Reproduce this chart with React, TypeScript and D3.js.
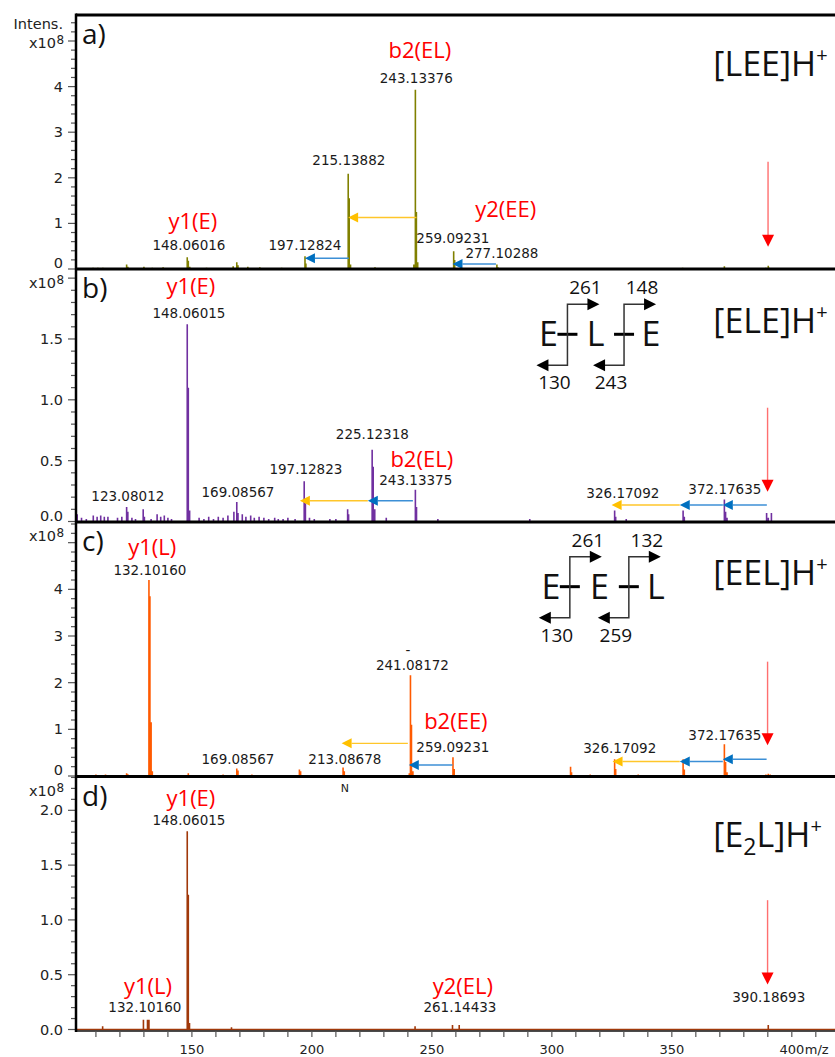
import React from "react";
import * as d3 from "d3";

// ---------- axis definitions ----------
const xDomain: [number, number] = [101.7, 418];
const xMajorTicks = [150, 200, 250, 300, 350, 400];
const xMinorTicks = d3.range(110, 420, 10);

// ---------- spectra: [m/z, intensity (x10^8)] ----------
const spectrumA: [number, number][] = [
  [103.5, 0.02], [108.8, 0.03], [110.8, 0.03], [112.9, 0.03], [114.7, 0.02], [118.5, 0.02],
  [122.8, 0.1], [123.3, 0.05], [126.5, 0.02], [130.0, 0.05], [133.5, 0.03], [138.0, 0.04],
  [142.5, 0.02], [148.06, 0.26], [148.5, 0.18], [149.1, 0.05], [152.5, 0.02], [156.1, 0.03],
  [162.0, 0.02], [167.2, 0.06], [168.7, 0.15], [169.2, 0.08], [173.3, 0.05], [178.3, 0.04],
  [182.0, 0.02], [187.4, 0.03], [197.13, 0.28], [197.5, 0.12], [207.0, 0.02], [215.14, 2.09],
  [215.55, 1.55], [216.1, 0.1], [226.3, 0.04], [233.0, 0.02], [242.5, 0.1], [243.13, 3.93],
  [243.55, 1.25], [244.1, 0.15], [259.09, 0.39], [259.5, 0.2], [277.1, 0.1], [277.5, 0.04],
  [354.5, 0.03], [371.9, 0.06], [389.2, 0.03], [390.19, 0.07], [390.6, 0.03],
];
const spectrumB: [number, number][] = [
  [102.2, 0.06], [104.0, 0.03], [106.0, 0.02], [108.9, 0.05], [110.5, 0.04], [112.0, 0.05],
  [113.5, 0.04], [115.0, 0.04], [119.0, 0.03], [120.8, 0.04], [122.8, 0.12], [123.3, 0.08],
  [125.0, 0.03], [126.5, 0.02], [129.7, 0.1], [130.2, 0.04], [133.0, 0.02], [135.5, 0.06],
  [137.0, 0.04], [138.5, 0.05], [140.0, 0.03], [141.5, 0.02], [148.06, 1.62], [148.5, 1.1],
  [149.05, 0.09], [153.0, 0.03], [155.0, 0.02], [157.0, 0.04], [159.0, 0.02], [161.0, 0.04],
  [163.0, 0.03], [165.0, 0.05], [167.5, 0.08], [168.7, 0.16], [169.2, 0.07], [171.0, 0.06],
  [172.5, 0.04], [174.5, 0.05], [176.0, 0.03], [178.0, 0.04], [180.0, 0.03], [182.0, 0.02],
  [184.5, 0.03], [186.0, 0.02], [188.0, 0.02], [190.0, 0.03], [193.0, 0.02], [196.8, 0.33],
  [197.3, 0.15], [199.0, 0.03], [201.0, 0.02], [207.5, 0.02], [210.0, 0.02], [214.9, 0.1],
  [215.3, 0.06], [225.12, 0.59], [225.55, 0.45], [226.2, 0.1], [231.0, 0.03], [243.13, 0.26],
  [243.6, 0.12], [252.5, 0.02], [290.8, 0.02], [326.17, 0.09], [326.6, 0.04], [331.0, 0.02],
  [354.7, 0.09], [355.2, 0.04], [371.9, 0.18], [372.4, 0.08], [373.0, 0.03], [389.5, 0.07],
  [390.2, 0.03], [391.5, 0.07],
];
const spectrumC: [number, number][] = [
  [108.0, 0.02], [110.0, 0.03], [112.0, 0.02], [114.0, 0.03], [116.0, 0.02], [122.8, 0.06],
  [123.3, 0.04], [126.0, 0.02], [132.1, 4.2], [132.5, 3.85], [133.0, 1.15], [133.5, 0.1],
  [141.0, 0.02], [148.5, 0.06], [153.0, 0.02], [158.0, 0.02], [163.0, 0.03], [168.7, 0.16],
  [169.2, 0.12], [175.0, 0.03], [182.0, 0.02], [194.8, 0.14], [195.3, 0.1], [203.0, 0.02],
  [213.0, 0.18], [213.5, 0.1], [229.0, 0.02], [240.6, 0.06], [241.08, 2.16], [241.5, 1.1],
  [242.1, 0.1], [258.8, 0.4], [259.3, 0.15], [290.0, 0.02], [307.8, 0.2], [308.2, 0.08],
  [316.0, 0.03], [326.17, 0.36], [326.6, 0.15], [336.0, 0.03], [354.7, 0.36], [355.2, 0.14],
  [371.9, 0.68], [372.4, 0.3], [373.0, 0.08], [389.2, 0.03], [390.19, 0.05], [391.0, 0.03],
];
const spectrumD: [number, number][] = [
  [112.8, 0.03], [129.8, 0.09], [131.5, 0.09], [132.1, 0.09], [148.06, 1.81], [148.5, 1.23],
  [149.0, 0.06], [166.5, 0.02], [243.0, 0.03], [258.6, 0.04], [261.4, 0.04], [390.19, 0.04],
];

// ---------- peak labels (black), ion labels (red) ----------
type Lbl = { t: string; m: number; v: number };
const peakLabelsA: Lbl[] = [
  { t: "148.06016", m: 148.75, v: 0.42 }, { t: "197.12824", m: 197.1, v: 0.42 },
  { t: "215.13882", m: 215.4, v: 2.29 }, { t: "243.13376", m: 243.5, v: 4.08 },
  { t: "259.09231", m: 258.75, v: 0.58 }, { t: "277.10288", m: 279.2, v: 0.24 },
];
const ionLabelsA: Lbl[] = [
  { t: "y1(E)", m: 150.4, v: 0.88 }, { t: "b2(EL)", m: 245.0, v: 4.63 }, { t: "y2(EE)", m: 280.8, v: 1.14 },
];
const peakLabelsB: Lbl[] = [
  { t: "148.06015", m: 148.75, v: 1.67 }, { t: "123.08012", m: 123.3, v: 0.17 },
  { t: "169.08567", m: 169.2, v: 0.2 }, { t: "197.12823", m: 197.5, v: 0.39 },
  { t: "225.12318", m: 225.2, v: 0.68 }, { t: "243.13375", m: 243.3, v: 0.3 },
  { t: "326.17092", m: 329.6, v: 0.19 }, { t: "372.17635", m: 372.1, v: 0.23 },
];
const ionLabelsB: Lbl[] = [
  { t: "y1(E)", m: 149.6, v: 1.87 }, { t: "b2(EL)", m: 245.8, v: 0.445 },
];
const peakLabelsC: Lbl[] = [
  { t: "132.10160", m: 132.5, v: 4.3 }, { t: "241.08172", m: 241.9, v: 2.27 },
  { t: "259.09231", m: 258.75, v: 0.52 }, { t: "169.08567", m: 169.2, v: 0.25 },
  { t: "213.08678", m: 213.75, v: 0.25 }, { t: "326.17092", m: 328.3, v: 0.49 },
  { t: "372.17635", m: 372.1, v: 0.77 }, { t: "-", m: 240.0, v: 2.6 },
];
const ionLabelsC: Lbl[] = [
  { t: "y1(L)", m: 133.5, v: 4.74 }, { t: "b2(EE)", m: 260.0, v: 1.0 },
];
const peakLabelsD: Lbl[] = [
  { t: "148.06015", m: 148.75, v: 1.87 }, { t: "132.10160", m: 130.4, v: 0.16 },
  { t: "261.14433", m: 261.7, v: 0.16 }, { t: "390.18693", m: 390.4, v: 0.25 },
  { t: "N", m: 213.75, v: 2.17 },
];
const ionLabelsD: Lbl[] = [
  { t: "y1(E)", m: 149.6, v: 2.04 }, { t: "y1(L)", m: 131.7, v: 0.32 }, { t: "y2(EL)", m: 262.9, v: 0.32 },
];

// ---------- neutral-loss arrows: from m/z -> to m/z at intensity level ----------
type Arr = { from: number; to: number; v: number; kind: "y" | "b" };
const arrowsA: Arr[] = [
  { from: 243.6, to: 215.1, v: 1.13, kind: "y" },
  { from: 215.4, to: 197.1, v: 0.235, kind: "b" },
  { from: 276.7, to: 258.6, v: 0.11, kind: "b" },
];
const arrowsB: Arr[] = [
  { from: 223.3, to: 195.0, v: 0.17, kind: "y" },
  { from: 242.1, to: 223.3, v: 0.17, kind: "b" },
  { from: 353.3, to: 324.9, v: 0.136, kind: "y" },
  { from: 371.25, to: 353.3, v: 0.136, kind: "b" },
  { from: 389.6, to: 371.25, v: 0.136, kind: "b" },
];
const arrowsC: Arr[] = [
  { from: 240.0, to: 212.4, v: 0.7, kind: "y" },
  { from: 258.6, to: 240.4, v: 0.235, kind: "b" },
  { from: 353.3, to: 325.3, v: 0.31, kind: "y" },
  { from: 371.25, to: 353.3, v: 0.31, kind: "b" },
  { from: 389.5, to: 371.25, v: 0.36, kind: "b" },
];
const arrowsD: Arr[] = [];

// precursor marker (red down arrow): m/z, from level, to level
const precursorA = { m: 390.1, v1: 2.35, v2: 0.49 };
const precursorB = { m: 389.9, v1: 0.935, v2: 0.245 };
const precursorC = { m: 389.9, v1: 2.45, v2: 0.66 };
const precursorD = { m: 389.9, v1: 1.18, v2: 0.41 };

// ---------- fragmentation diagrams ----------
const diagramB = { m: 306.5, v: 1.785, letters: ["E", "L", "E"], top: ["261", "148"], bottom: ["130", "243"] };
const diagramC = { m: 307.5, v: 4.7, letters: ["E", "E", "L"], top: ["261", "132"], bottom: ["130", "259"] };

// ---------- panel layout ----------
const panels = [
  { id: "a)", top: 15, y0: 269, yMax: 5.57, major: 1, minor: 0.2, labelMax: 4, fmt: "d", zeroShift: -6,
    color: "#808000", data: spectrumA, peaks: peakLabelsA, ions: ionLabelsA, arrows: arrowsA, prec: precursorA,
    title: ["[LEE]H", "", ""], titleV: 4.23, diagram: null as any, gap: 0 },
  { id: "b)", top: 269, y0: 521.5, yMax: 2.075, major: 0.5, minor: 0.1, labelMax: 1.5, fmt: ".1f", zeroShift: -6,
    color: "#7030A0", data: spectrumB, peaks: peakLabelsB, ions: ionLabelsB, arrows: arrowsB, prec: precursorB,
    title: ["[ELE]H", "", ""], titleV: 1.55, diagram: diagramB, gap: 56.6 },
  { id: "c)", top: 522, y0: 776, yMax: 5.443, major: 1, minor: 0.2, labelMax: 4, fmt: "d", zeroShift: -6,
    color: "#FF5A00", data: spectrumC, peaks: peakLabelsC, ions: ionLabelsC, arrows: arrowsC, prec: precursorC,
    title: ["[EEL]H", "", ""], titleV: 4.09, diagram: diagramC, gap: 59 },
  { id: "d)", top: 777, y0: 1029.5, yMax: 2.304, major: 0.5, minor: 0.1, labelMax: 2.0, fmt: ".1f", zeroShift: 0,
    color: "#A0380A", data: spectrumD, peaks: peakLabelsD, ions: ionLabelsD, arrows: arrowsD, prec: precursorD,
    title: ["[E", "2", "L]H"], titleV: 1.665, diagram: null as any, gap: 0 },
];

const LEFT = 76;
const RIGHT = 835;
const TICK_FONT = "DejaVu Sans, Verdana, sans-serif";
const LABEL_FONT = "Open Sans, Noto Sans, sans-serif";

function HArrow({ x1, x2, y, kind }: { x1: number; x2: number; y: number; kind: "y" | "b" }) {
  const head = kind === "y" ? "#FFC000" : "#0070C0";
  const line = kind === "y" ? "#FFC62A" : "#3C8FD6";
  const dir = x2 < x1 ? 1 : -1;
  const hl = 10;
  return (
    <g>
      <line x1={x1} x2={x2 + dir * hl} y1={y} y2={y} stroke={line} strokeWidth={1.4} />
      <polygon points={`${x2},${y} ${x2 + dir * hl},${y - 5} ${x2 + dir * hl},${y + 5}`} fill={head} />
    </g>
  );
}

function DownArrow({ x, y1, y2 }: { x: number; y1: number; y2: number }) {
  return (
    <g>
      <line x1={x} x2={x} y1={y1} y2={y2 - 11} stroke="#FF6F6F" strokeWidth={1.4} />
      <polygon points={`${x},${y2} ${x - 6},${y2 - 12} ${x + 6},${y2 - 12}`} fill="#FF0000" />
    </g>
  );
}

function Diagram({ x0, yTop, gap, d }: { x0: number; yTop: number; gap: number; d: any }) {
  const h = 61;
  const xs = [x0, x0 + gap];
  const letterX = [x0 - 19, x0 + gap / 2, x0 + gap + 27];
  return (
    <g>
      {d.letters.map((l: string, i: number) => (
        <text key={"l" + i} x={letterX[i]} y={yTop + 42} textAnchor="middle" fontFamily={LABEL_FONT} fontSize={34} fill="#111">{l}</text>
      ))}
      {xs.map((xv, i) => (
        <g key={"v" + i}>
          <line x1={xv - 10} x2={xv + 10} y1={yTop + 30} y2={yTop + 30} stroke="#000" strokeWidth={3} />
          <path d={`M${xv + 21},${yTop}H${xv}V${yTop + h}H${xv - 20}`} fill="none" stroke="#333" strokeWidth={1.5} />
          <polygon points={`${xv + 32},${yTop} ${xv + 20},${yTop - 6} ${xv + 20},${yTop + 6}`} fill="#000" />
          <polygon points={`${xv - 31},${yTop + h} ${xv - 19},${yTop + h - 6} ${xv - 19},${yTop + h + 6}`} fill="#000" />
          <text x={xv + 18} y={yTop - 10} textAnchor="middle" fontFamily={LABEL_FONT} fontSize={19} fill="#111">{d.top[i]}</text>
          <text x={xv - 13} y={yTop + h + 24} textAnchor="middle" fontFamily={LABEL_FONT} fontSize={19} fill="#111">{d.bottom[i]}</text>
        </g>
      ))}
    </g>
  );
}

export default function App() {
  const x = d3.scaleLinear().domain(xDomain).range([LEFT, RIGHT]);
  const bottomY = 1031;

  return (
    <div style={{ position: "absolute", left: 0, top: 0 }}>
      <svg width={835} height={1057} style={{ display: "block", background: "#fff" }}>
        {panels.map((p) => {
          const y = d3.scaleLinear().domain([0, p.yMax]).range([p.y0, p.top]);
          const ticks = d3.range(0, p.yMax + 1e-9, p.minor).map((v) => Math.round(v * 1000) / 1000);
          const fmt = d3.format(p.fmt);
          const path = p.data.map(([m, v]) => `M${x(m)},${y(0)}V${y(v)}`).join("");
          return (
            <g key={p.id}>
              {/* y ticks */}
              {ticks.map((v) => {
                const isMajor = Math.abs(v / p.major - Math.round(v / p.major)) < 1e-6;
                const yy = y(v);
                return (
                  <g key={v}>
                    <line x1={isMajor ? LEFT - 8 : LEFT - 5} x2={LEFT} y1={yy} y2={yy} stroke="#555" strokeWidth={1.2} />
                    {isMajor && v <= p.labelMax + 1e-9 && (
                      <text x={63} y={yy + (v === 0 ? p.zeroShift : 0)} textAnchor="end" dominantBaseline="central"
                        fontFamily={TICK_FONT} fontSize={14.5} fill="#222">{fmt(v)}</text>
                    )}
                  </g>
                );
              })}
              {/* multiplier */}
              {p.id === "a)" && (
                <text x={63} y={p.top + 14} textAnchor="end" fontFamily={TICK_FONT} fontSize={14.5} fill="#222">Intens.</text>
              )}
              <text x={56} y={p.top + (p.id === "a)" ? 33 : 19)} textAnchor="end" fontFamily={TICK_FONT} fontSize={14.5} fill="#222">x10</text>
              <text x={56.5} y={p.top + (p.id === "a)" ? 29 : 15)} textAnchor="start" fontFamily={TICK_FONT} fontSize={12} fill="#222">8</text>

              {/* spectrum */}
              <path d={path} stroke={p.color} strokeWidth={1.6} fill="none" />
              {p.id === "d)" && (
                <line x1={LEFT} x2={RIGHT} y1={y(0)} y2={y(0)} stroke={p.color} strokeWidth={1.5} />
              )}

              {/* panel label */}
              <text x={82} y={p.top + 29} fontFamily={LABEL_FONT} fontSize={28} fill="#111">{p.id}</text>

              {/* title */}
              <text x={x(367.3)} y={y(p.titleV)} fontFamily={LABEL_FONT} fontSize={34} fill="#111">
                <tspan>{p.title[0]}</tspan>
                {p.title[1] && <tspan fontSize={23} dy={8}>{p.title[1]}</tspan>}
                {p.title[2] && <tspan dy={-8}>{p.title[2]}</tspan>}
                <tspan fontSize={20} dy={-14}>+</tspan>
              </text>

              {/* arrows */}
              {p.arrows.map((a, i) => (
                <HArrow key={"a" + i} x1={x(a.from)} x2={x(a.to)} y={y(a.v)} kind={a.kind} />
              ))}
              <DownArrow x={x(p.prec.m)} y1={y(p.prec.v1)} y2={y(p.prec.v2)} />

              {/* labels */}
              {p.peaks.map((l, i) => (
                <text key={"p" + i} x={x(l.m)} y={y(l.v)} textAnchor="middle" fontFamily={TICK_FONT}
                  fontSize={l.t === "N" ? 11 : 13.5} fill="#1a1a1a">{l.t}</text>
              ))}
              {p.ions.map((l, i) => (
                <text key={"i" + i} x={x(l.m)} y={y(l.v)} textAnchor="middle" fontFamily={LABEL_FONT}
                  fontSize={22} fill="#FF0000">{l.t}</text>
              ))}

              {p.diagram && <Diagram x0={x(p.diagram.m)} yTop={y(p.diagram.v)} gap={p.gap} d={p.diagram} />}
            </g>
          );
        })}

        {/* panel borders */}
        {[15, 269, 522, 776.5].map((yy) => (
          <line key={yy} x1={LEFT} x2={RIGHT} y1={yy} y2={yy} stroke="#000" strokeWidth={3} />
        ))}
        <line x1={LEFT} x2={RIGHT} y1={bottomY} y2={bottomY} stroke="#111" strokeWidth={1.5} />
        <line x1={LEFT} x2={LEFT} y1={13.5} y2={bottomY + 1} stroke="#000" strokeWidth={2.5} />

        {/* x axis */}
        {xMinorTicks.map((t) => (
          <line key={t} x1={x(t)} x2={x(t)} y1={bottomY} y2={bottomY + 6} stroke="#555" strokeWidth={1.2} />
        ))}
        {xMajorTicks.map((t) => (
          <text key={t} x={x(t)} y={1054} textAnchor="middle" fontFamily={TICK_FONT} fontSize={13} fill="#222">{t}</text>
        ))}
        <text x={x(400) + 13} y={1054} textAnchor="start" fontFamily={TICK_FONT} fontSize={13} fill="#222">m/z</text>
      </svg>
    </div>
  );
}
